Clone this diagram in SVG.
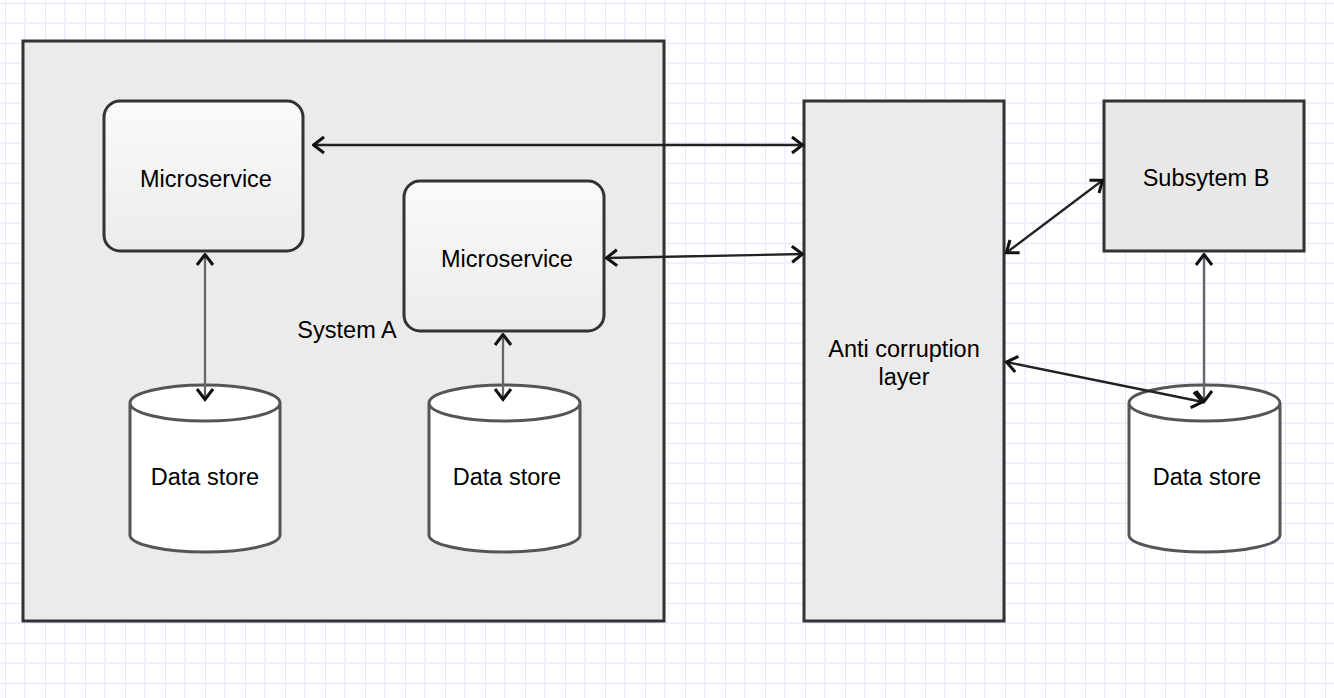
<svg xmlns="http://www.w3.org/2000/svg" width="1334" height="698" viewBox="0 0 1334 698">
<style>
text{font-family:"Liberation Sans",Arial,sans-serif;font-size:23.5px;fill:#000;text-anchor:middle}
.box{stroke:#333;stroke-width:3}
.ms{fill:url(#msg);stroke:#333;stroke-width:3}
.cyl{fill:#fff;stroke:#555;stroke-width:3}
.c{fill:none;stroke-width:2.3}
.dk{stroke:#222}
.gr{stroke:#666}
</style>
<defs>
<pattern id="grid" x="5" y="3" width="40" height="40" patternUnits="userSpaceOnUse">
<path d="M20 0V40M0 20H40" stroke="#f2f0ff" stroke-width="2" fill="none"/>
<path d="M0 0V40M0 0H40" stroke="#e8e5ff" stroke-width="2" fill="none"/>
</pattern>
<linearGradient id="msg" x1="0" y1="0" x2="0" y2="1">
<stop offset="0" stop-color="#fafafa"/>
<stop offset="1" stop-color="#ececec"/>
</linearGradient>
<marker id="ah" viewBox="0 0 14 20" refX="12.5" refY="10" markerWidth="14" markerHeight="20" markerUnits="userSpaceOnUse" orient="auto-start-reverse">
<path d="M1.5 2L12 10L1.5 18" fill="none" stroke="#111" stroke-width="3"/>
</marker>
</defs>
<rect width="1334" height="698" fill="#fff"/>
<rect width="1334" height="698" fill="url(#grid)"/>
<g id="systemA">
<rect class="box" x="23" y="41" width="641" height="580" fill="#ebebeb"/>
<text x="347" y="338">System A</text>
</g>
<g id="ms1">
<rect class="ms" x="104" y="101" width="199" height="150" rx="16"/>
<text x="206" y="187">Microservice</text>
</g>
<g id="ms2">
<rect class="ms" x="404" y="181" width="200" height="150" rx="16"/>
<text x="507" y="267">Microservice</text>
</g>
<g id="ds1">
<path class="cyl" d="M130 403V535A75 17 0 0 0 280 535V403A75 18 0 0 0 130 403A75 18 0 0 0 280 403"/>
<text x="205" y="485">Data store</text>
</g>
<g id="ds2">
<path class="cyl" d="M429 403V535A75.5 17 0 0 0 580 535V403A75.5 18 0 0 0 429 403A75.5 18 0 0 0 580 403"/>
<text x="507" y="485">Data store</text>
</g>
<g id="acl">
<rect class="box" x="804" y="101" width="200" height="520" fill="#ebebeb"/>
<text x="904" y="357">Anti corruption</text>
<text x="904" y="385">layer</text>
</g>
<g id="subB">
<rect class="box" x="1104" y="101" width="200" height="150" fill="#e8e8e8"/>
<text x="1206" y="186">Subsytem B</text>
</g>
<g id="ds3">
<path class="cyl" d="M1129 403V535A75.5 17 0 0 0 1280 535V403A75.5 18 0 0 0 1129 403A75.5 18 0 0 0 1280 403"/>
<text x="1207" y="485">Data store</text>
</g>
<g id="connectors">
<line class="c dk" x1="313" y1="145" x2="803" y2="145" marker-start="url(#ah)" marker-end="url(#ah)"/>
<line class="c dk" x1="606" y1="258" x2="803" y2="254" marker-start="url(#ah)" marker-end="url(#ah)"/>
<line class="c gr" x1="205" y1="254" x2="205" y2="400" marker-start="url(#ah)" marker-end="url(#ah)"/>
<line class="c gr" x1="503" y1="334" x2="503" y2="400" marker-start="url(#ah)" marker-end="url(#ah)"/>
<line class="c dk" x1="1006" y1="253" x2="1103" y2="180" marker-start="url(#ah)" marker-end="url(#ah)"/>
<line class="c gr" x1="1204" y1="254" x2="1204" y2="402" marker-start="url(#ah)" marker-end="url(#ah)"/>
<line class="c dk" x1="1006" y1="362" x2="1203" y2="402" marker-start="url(#ah)" marker-end="url(#ah)"/>
</g>
</svg>
